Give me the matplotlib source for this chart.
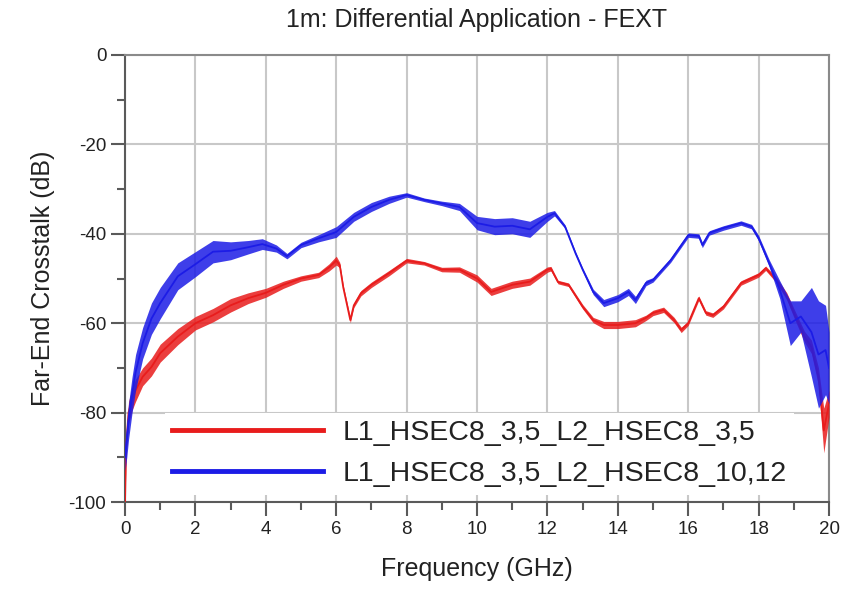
import matplotlib.pyplot as plt
from matplotlib.lines import Line2D
from matplotlib.ticker import MultipleLocator

plt.rcParams['font.family'] = ['Liberation Sans', 'DejaVu Sans']
plt.rcParams['axes.unicode_minus'] = False

# Frequency points (GHz) and read-off crosstalk values (dB)
# "spread" is the half-height of the ripple band seen in the trace
freq_red = [0.0, 0.03, 0.1, 0.2, 0.3, 0.5, 0.75, 1.0, 1.5, 2.0, 2.5, 3.0, 3.5, 4.0,
            4.5, 5.0, 5.5, 5.8, 6.0, 6.1, 6.2, 6.4, 6.5, 6.7, 7.0, 7.5, 8.0, 8.5,
            9.0, 9.5, 10.0, 10.4, 11.0, 11.5, 12.0, 12.1, 12.3, 12.6, 13.0, 13.3,
            13.6, 14.0, 14.5, 14.8, 15.0, 15.3, 15.6, 15.8, 16.0, 16.3, 16.5, 16.7,
            17.0, 17.5, 18.0, 18.2, 18.5, 18.8, 19.0, 19.3, 19.5, 19.7, 19.85, 20.0]
red_db = [-100, -88, -80, -77, -75, -72, -69.8, -66.7, -63, -60, -58.2, -56, -54.4, -53.2,
          -51.4, -50, -49.2, -47.5, -46, -47, -52, -59.3, -56, -53.3, -51.4, -48.8, -46, -46.6,
          -48, -48, -50, -53, -51.4, -50.7, -48, -47.8, -50.8, -51.4, -56.3, -59.3,
          -60.4, -60.4, -60, -58.8, -57.7, -57, -59.3, -61.5, -60, -54.4, -57.7, -58.2,
          -56.3, -51, -49.2, -47.7, -50.3, -54, -57.7, -63, -65.3, -72, -84, -78]
red_spread = [0, 2, 2.5, 2.5, 2.5, 2, 2, 2, 1.8, 1.5, 1.5, 1.5, 1.2, 1,
              0.8, 0.6, 0.6, 0.8, 1.0, 0.6, 0.5, 0.6, 0.5, 0.6, 0.6, 0.6, 0.5, 0.4,
              0.5, 0.6, 0.8, 0.8, 0.8, 0.8, 0.6, 0.5, 0.4, 0.4, 0.5, 0.6,
              0.8, 0.8, 0.8, 0.6, 0.6, 0.6, 0.6, 0.6, 0.5, 0.5, 0.5, 0.5,
              0.5, 0.5, 0.5, 0.5, 0.6, 0.8, 1, 1.2, 1.5, 2, 5, 3]

freq_blue = [0.0, 0.05, 0.1, 0.2, 0.3, 0.5, 0.75, 1.0, 1.5, 2.0, 2.5, 3.0, 3.5, 3.9,
             4.3, 4.6, 5.0, 5.5, 6.0, 6.5, 7.0, 7.5, 8.0, 8.5, 9.0, 9.5, 10.0, 10.5,
             11.0, 11.5, 12.0, 12.2, 12.5, 12.8, 13.0, 13.3, 13.6, 14.0, 14.3, 14.5,
             14.8, 15.0, 15.5, 16.0, 16.3, 16.4, 16.6, 17.0, 17.5, 17.8, 18.0, 18.3,
             18.6, 18.9, 19.2, 19.5, 19.7, 19.9, 20.0]
blue_db = [-90, -86, -82, -76, -71, -64.5, -59, -55.5, -49.5, -46.8, -44, -43.8, -43, -42.3,
           -43.3, -45, -42.5, -41, -39.6, -36.2, -34, -32.4, -31.3, -32.4, -33.2, -34, -37.6, -38.4,
           -38.2, -39, -36.2, -35.4, -38.4, -44.4, -48, -53, -55.5, -54.4, -53, -54.8,
           -51, -50.3, -45.9, -40.3, -40.5, -42.5, -39.8, -38.7, -37.6, -38.4, -41, -46.6,
           -52.5, -60, -58.5, -62, -67, -66, -70]
blue_spread = [3, 4, 4, 4, 4, 3.5, 3.5, 3.5, 3, 2.8, 2.5, 2, 1.5, 1.2,
               0.8, 0.6, 0.6, 0.8, 1.2, 1.0, 1.0, 0.8, 0.5, 0.4, 0.5, 0.8, 1.5, 1.8,
               1.8, 1.8, 1.0, 0.6, 0.4, 0.4, 0.4, 0.6, 0.8, 0.8, 0.8, 0.8,
               0.6, 0.5, 0.5, 0.5, 0.5, 0.6, 0.5, 0.5, 0.5, 0.5, 0.6, 0.8,
               2, 5, 3.5, 10, 12, 10, 8]

labels = ['L1_HSEC8_3,5_L2_HSEC8_3,5', 'L1_HSEC8_3,5_L2_HSEC8_10,12']
red = '#e81c1c'
blue = '#1c1ce6'

fig = plt.figure(figsize=(8.47, 6.01), dpi=100)
ax = fig.add_axes([0.1476, 0.1647, 0.8312, 0.7438])

# ripple band + trace for each series
red_lo = [v - s for v, s in zip(red_db, red_spread)]
red_hi = [v + s for v, s in zip(red_db, red_spread)]
blue_lo = [v - s for v, s in zip(blue_db, blue_spread)]
blue_hi = [v + s for v, s in zip(blue_db, blue_spread)]

ax.fill_between(freq_red, red_lo, red_hi, color=red, lw=0, alpha=0.85, zorder=3)
ax.plot(freq_red, red_db, color=red, lw=1.3, zorder=3)
ax.fill_between(freq_blue, blue_lo, blue_hi, color=blue, lw=0, alpha=0.85, zorder=4)
ax.plot(freq_blue, blue_db, color=blue, lw=1.3, zorder=4)

ax.set_xlim(0, 20)
ax.set_ylim(-100, 0)
ax.xaxis.set_major_locator(MultipleLocator(2))
ax.xaxis.set_minor_locator(MultipleLocator(1))
ax.yaxis.set_major_locator(MultipleLocator(20))
ax.yaxis.set_minor_locator(MultipleLocator(10))
ax.grid(True, which='major', color='#c8c8c8', lw=1.5, zorder=0)
ax.set_axisbelow(True)

for side in ['left', 'bottom']:
    ax.spines[side].set_color('#5a5a5a')
    ax.spines[side].set_linewidth(1.5)
for side in ['top', 'right']:
    ax.spines[side].set_color('#8a8a8a')
    ax.spines[side].set_linewidth(1.5)

ax.tick_params(which='major', direction='out', length=10, width=1.5, color='#5a5a5a',
               labelsize=13.5, labelcolor='#222222', top=False, right=False)
ax.tick_params(which='minor', direction='out', length=6, width=1.5, color='#5a5a5a',
               top=False, right=False)

ax.set_title('1m: Differential Application - FEXT', fontsize=18, color='#222222', pad=20)
ax.set_xlabel('Frequency (GHz)', fontsize=18, color='#222222', labelpad=14)
ax.set_ylabel('Far-End Crosstalk (dB)', fontsize=18, color='#222222', labelpad=10)

handles = [Line2D([], [], color=red, lw=3.5), Line2D([], [], color=blue, lw=3.5)]
leg = ax.legend(handles, labels, loc='upper left', bbox_to_anchor=(0.057, 0.2),
                borderaxespad=0, fontsize=20.5, frameon=True, fancybox=False,
                framealpha=1, facecolor='white', edgecolor='none',
                handlelength=5.3, handletextpad=0.7, labelspacing=0.55, borderpad=0.25)
leg.set_zorder(5)
for t in leg.get_texts():
    t.set_color('#222222')

fig.savefig('out.png', dpi=100)
